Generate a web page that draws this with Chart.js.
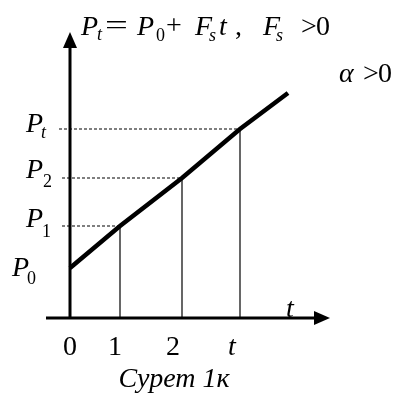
<!DOCTYPE html>
<html>
<head>
<meta charset="utf-8">
<script src="https://cdn.jsdelivr.net/npm/chart.js@4/dist/chart.umd.min.js"></script>
<style>
html,body{margin:0;padding:0;background:#fff;}
#wrap{width:398px;height:397px;position:relative;}
</style>
</head>
<body>
<div id="wrap"><canvas id="c" width="398" height="397"></canvas></div>
<script>
// ---- data ----
const tickValues = [0, 1, 2.24, 3.4];
const tickLabels = ['0', '1', '2', 't'];
const levelValues = [1.0, 1.84, 2.8, 3.78];
const levelNames = ['P', 'P', 'P', 'P'];
const levelSubs = ['0', '1', '2', 't'];
const lineX = [0, 1, 2.24, 3.4, 4.36];
const lineY = [1.0, 1.84, 2.8, 3.78, 4.5];
const captionText = 'Сурет 1к';

const SERIF = '"Liberation Serif", "Times New Roman", serif';

const datasets = [];
datasets.push({
  data: lineX.map((x, i) => ({x: x, y: lineY[i]})),
  borderColor: '#000', borderWidth: 4.5, pointRadius: 0, fill: false, tension: 0
});
for (let i = 1; i < tickValues.length; i++) {
  datasets.push({
    data: [{x: i === 3 ? -0.22 : -0.16, y: levelValues[i]}, {x: tickValues[i], y: levelValues[i]}],
    borderColor: '#000', borderWidth: 1.2, borderDash: [3, 2], pointRadius: 0, fill: false
  });
  datasets.push({
    data: [{x: tickValues[i], y: 0}, {x: tickValues[i], y: levelValues[i]}],
    borderColor: '#000', borderWidth: 1.2, pointRadius: 0, fill: false
  });
}

function txt(ctx, s, x, y, size, italic, align) {
  ctx.font = (italic ? 'italic ' : '') + size + 'px ' + SERIF;
  ctx.textAlign = align || 'left';
  ctx.textBaseline = 'alphabetic';
  ctx.fillStyle = '#000';
  ctx.fillText(s, x, y);
}

const drawPlugin = {
  id: 'drawings',
  afterDatasetsDraw(chart) {
    const ctx = chart.ctx;
    const xs = chart.scales.x, ys = chart.scales.y;
    const x0 = xs.getPixelForValue(0), y0 = ys.getPixelForValue(0);
    ctx.save();
    ctx.strokeStyle = '#000';
    ctx.fillStyle = '#000';
    ctx.lineWidth = 3;
    ctx.setLineDash([]);
    // y axis
    const yTop = ys.getPixelForValue(5.72);
    ctx.beginPath(); ctx.moveTo(x0, y0 + 1); ctx.lineTo(x0, yTop + 14); ctx.stroke();
    ctx.beginPath(); ctx.moveTo(x0, yTop); ctx.lineTo(x0 - 7, yTop + 16); ctx.lineTo(x0 + 7, yTop + 16); ctx.closePath(); ctx.fill();
    // x axis
    const xL = xs.getPixelForValue(-0.48), xR = xs.getPixelForValue(5.2);
    ctx.beginPath(); ctx.moveTo(xL, y0); ctx.lineTo(xR - 14, y0); ctx.stroke();
    ctx.beginPath(); ctx.moveTo(xR, y0); ctx.lineTo(xR - 16, y0 - 7); ctx.lineTo(xR - 16, y0 + 7); ctx.closePath(); ctx.fill();

    // tick labels
    const tickShift = [0, -5, -9, -8];
    tickValues.forEach((v, i) => {
      txt(ctx, tickLabels[i], xs.getPixelForValue(v) + tickShift[i], y0 + 37, 28, tickLabels[i] === 't', 'center');
    });
    // axis name t
    txt(ctx, 't', xR - 44, y0 - 1, 28, true, 'left');

    // level labels
    const lx = [12, 26, 26, 26];
    const ly = [8, 1, 0, 3];
    const sx = [15, 16, 17, 15];
    const sy = [8, 10, 9, 6];
    levelValues.forEach((v, i) => {
      const py = ys.getPixelForValue(v) + ly[i];
      txt(ctx, levelNames[i], lx[i], py, 28, true);
      txt(ctx, levelSubs[i], lx[i] + sx[i], py + sy[i], 18, levelSubs[i] === 't');
    });

    // title formula
    const b = 35;
    txt(ctx, 'P', 81, b, 28, true);
    txt(ctx, 't', 97, b + 5, 18, true);
    ctx.save(); ctx.translate(105, 0); ctx.scale(1.45, 1); txt(ctx, '=', 0, b - 1, 28, false); ctx.restore();
    txt(ctx, 'P', 137, b, 28, true);
    txt(ctx, '0', 156, b + 6, 18, false);
    txt(ctx, '+', 166, b - 1, 28, false);
    txt(ctx, 'F', 195, b, 28, true);
    txt(ctx, 's', 209, b + 6, 18, true);
    txt(ctx, 't', 219, b, 28, true);
    txt(ctx, ',', 235, b, 28, false);
    txt(ctx, 'F', 263, b, 28, true);
    txt(ctx, 's', 276, b + 6, 18, true);
    txt(ctx, '>', 301, b, 28, false);
    txt(ctx, '0', 316, b, 28, false);

    // alpha
    txt(ctx, 'α', 339, 82, 28, true);
    txt(ctx, '>', 363, 82, 28, false);
    txt(ctx, '0', 378, 82, 28, false);

    // caption
    txt(ctx, captionText, 174, y0 + 69, 28, true, 'center');
    ctx.restore();
  }
};

new Chart(document.getElementById('c'), {
  type: 'line',
  data: {datasets: datasets},
  options: {
    responsive: false,
    animation: false,
    parsing: true,
    layout: {padding: 0},
    plugins: {legend: {display: false}, tooltip: {enabled: false}, title: {display: false}},
    scales: {
      x: {type: 'linear', display: false, min: -1.4, max: 6.56},
      y: {type: 'linear', display: false, min: -1.58, max: 6.36}
    }
  },
  plugins: [drawPlugin]
});
</script>
</body>
</html>
